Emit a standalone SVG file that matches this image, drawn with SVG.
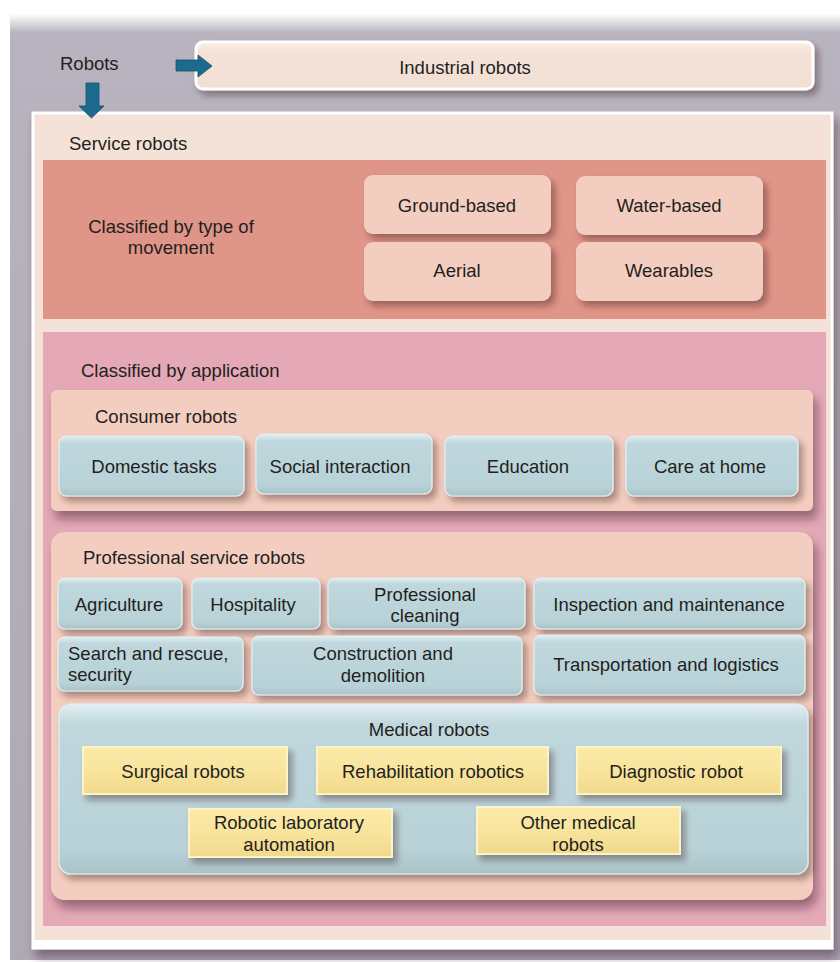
<svg xmlns="http://www.w3.org/2000/svg" width="840" height="962" viewBox="0 0 840 962">
<style>
  text { font-family: "Liberation Sans", Arial, sans-serif; font-size: 18.5px; fill: #231f20; }
  .c { text-anchor: middle; }
  .blue { fill: url(#gBlue); stroke: #e4f0f3; stroke-width: 1.2; }
  .yel { fill: url(#gYel); stroke: #fdf3c8; stroke-width: 2; }
  .peach { fill: #f3cdbf; }
</style>
<defs>
  <filter id="sh" x="-10%" y="-20%" width="130%" height="160%">
    <feDropShadow dx="4" dy="5" stdDeviation="3" flood-color="#3a1a1a" flood-opacity="0.4"/>
  </filter>
  <filter id="shL" x="-5%" y="-5%" width="115%" height="125%">
    <feDropShadow dx="4" dy="8" stdDeviation="5" flood-color="#3a1a2a" flood-opacity="0.45"/>
  </filter>
  <linearGradient id="gBg" x1="0" y1="0" x2="0" y2="1">
    <stop offset="0" stop-color="#ffffff"/>
    <stop offset="0.02" stop-color="#b8b3be"/>
    <stop offset="1" stop-color="#aea9b5"/>
  </linearGradient>
  <linearGradient id="gBlue" x1="0" y1="0" x2="0" y2="1">
    <stop offset="0" stop-color="#e2eff2"/>
    <stop offset="0.12" stop-color="#bfd7dd"/>
    <stop offset="0.85" stop-color="#b8d2d8"/>
    <stop offset="1" stop-color="#a9c3c9"/>
  </linearGradient>
  <linearGradient id="gYel" x1="0" y1="0" x2="0" y2="1">
    <stop offset="0" stop-color="#fbeaa9"/>
    <stop offset="0.5" stop-color="#f8e49c"/>
    <stop offset="1" stop-color="#f1d98c"/>
  </linearGradient>
  <linearGradient id="gInd" x1="0" y1="0" x2="0" y2="1">
    <stop offset="0" stop-color="#fbefe8"/>
    <stop offset="0.2" stop-color="#f4e2d8"/>
    <stop offset="1" stop-color="#f2dfd4"/>
  </linearGradient>
</defs>

<!-- background -->
<rect x="0" y="0" width="840" height="962" fill="#ffffff"/>
<rect x="10" y="14" width="830" height="946" fill="url(#gBg)"/>

<g id="robots">
  <text x="60" y="70">Robots</text>
</g>

<g id="industrial-robots">
  <rect x="196" y="42" width="617" height="47" rx="7" fill="url(#gInd)" stroke="#ffffff" stroke-width="3" filter="url(#sh)"/>
  <text class="c" x="465" y="74">Industrial robots</text>
</g>

<g id="service-robots">
  <rect x="33" y="113" width="799" height="835" fill="#f4e2d8" stroke="#ffffff" stroke-width="3" filter="url(#shL)"/>
  <rect x="34" y="940" width="797" height="7" fill="#ffffff"/>
  <text x="69" y="150">Service robots</text>
</g>

<g id="movement">
  <rect x="43" y="160" width="783" height="159" fill="#df9587"/>
  <text class="c" x="171" y="233">Classified by type of</text>
  <text class="c" x="171" y="254">movement</text>
</g>
<g id="ground-based">
  <rect class="peach" x="364" y="175" width="187" height="59" rx="9" filter="url(#sh)"/>
  <text class="c" x="457" y="212">Ground-based</text>
</g>
<g id="water-based">
  <rect class="peach" x="576" y="176" width="187" height="59" rx="9" filter="url(#sh)"/>
  <text class="c" x="669" y="212">Water-based</text>
</g>
<g id="aerial">
  <rect class="peach" x="364" y="242" width="187" height="59" rx="9" filter="url(#sh)"/>
  <text class="c" x="457" y="277">Aerial</text>
</g>
<g id="wearables">
  <rect class="peach" x="576" y="242" width="187" height="59" rx="9" filter="url(#sh)"/>
  <text class="c" x="669" y="277">Wearables</text>
</g>

<g id="application">
  <rect x="43" y="332" width="783" height="594" fill="#e4a8b6"/>
  <text x="81" y="377">Classified by application</text>
</g>

<g id="consumer-robots">
  <rect class="peach" x="51" y="390" width="762" height="121" rx="6" filter="url(#shL)"/>
  <text x="95" y="423">Consumer robots</text>
</g>
<g id="domestic-tasks">
  <rect class="blue" x="59" y="436" width="185" height="60" rx="8" filter="url(#sh)"/>
  <text class="c" x="154" y="473">Domestic tasks</text>
</g>
<g id="social-interaction">
  <rect class="blue" x="256" y="434" width="176" height="60" rx="8" filter="url(#sh)"/>
  <text class="c" x="340" y="473">Social interaction</text>
</g>
<g id="education">
  <rect class="blue" x="445" y="436" width="168" height="60" rx="8" filter="url(#sh)"/>
  <text class="c" x="528" y="473">Education</text>
</g>
<g id="care-at-home">
  <rect class="blue" x="626" y="436" width="172" height="60" rx="8" filter="url(#sh)"/>
  <text class="c" x="710" y="473">Care at home</text>
</g>

<g id="professional-service-robots">
  <rect class="peach" x="51" y="532" width="762" height="368" rx="14" filter="url(#shL)"/>
  <text x="83" y="564">Professional service robots</text>
</g>
<g id="agriculture">
  <rect class="blue" x="58" y="578" width="124" height="51" rx="7" filter="url(#sh)"/>
  <text class="c" x="119" y="611">Agriculture</text>
</g>
<g id="hospitality">
  <rect class="blue" x="192" y="578" width="128" height="51" rx="7" filter="url(#sh)"/>
  <text class="c" x="253" y="611">Hospitality</text>
</g>
<g id="professional-cleaning">
  <rect class="blue" x="328" y="578" width="197" height="51" rx="7" filter="url(#sh)"/>
  <text class="c" x="425" y="601">Professional</text>
  <text class="c" x="425" y="622">cleaning</text>
</g>
<g id="inspection-and-maintenance">
  <rect class="blue" x="534" y="578" width="271" height="51" rx="7" filter="url(#sh)"/>
  <text class="c" x="669" y="611">Inspection and maintenance</text>
</g>
<g id="search-and-rescue">
  <rect class="blue" x="58" y="637" width="185" height="54" rx="7" filter="url(#sh)"/>
  <text x="68" y="660">Search and rescue,</text>
  <text x="68" y="681">security</text>
</g>
<g id="construction-and-demolition">
  <rect class="blue" x="252" y="636" width="270" height="59" rx="7" filter="url(#sh)"/>
  <text class="c" x="383" y="660">Construction and</text>
  <text class="c" x="383" y="682">demolition</text>
</g>
<g id="transportation-and-logistics">
  <rect class="blue" x="534" y="635" width="271" height="60" rx="7" filter="url(#sh)"/>
  <text class="c" x="666" y="671">Transportation and logistics</text>
</g>

<g id="medical-robots">
  <rect class="blue" x="59" y="704" width="749" height="170" rx="12" filter="url(#sh)"/>
  <text class="c" x="429" y="736">Medical robots</text>
</g>
<g id="surgical-robots">
  <rect class="yel" x="83" y="747" width="204" height="47" filter="url(#sh)"/>
  <text class="c" x="183" y="778">Surgical robots</text>
</g>
<g id="rehabilitation-robotics">
  <rect class="yel" x="317" y="747" width="231" height="47" filter="url(#sh)"/>
  <text class="c" x="433" y="778">Rehabilitation robotics</text>
</g>
<g id="diagnostic-robot">
  <rect class="yel" x="577" y="747" width="204" height="47" filter="url(#sh)"/>
  <text class="c" x="676" y="778">Diagnostic robot</text>
</g>
<g id="robotic-laboratory-automation">
  <rect class="yel" x="189" y="809" width="203" height="48" filter="url(#sh)"/>
  <text class="c" x="289" y="829">Robotic laboratory</text>
  <text class="c" x="289" y="851">automation</text>
</g>
<g id="other-medical-robots">
  <rect class="yel" x="477" y="807" width="203" height="47" filter="url(#sh)"/>
  <text class="c" x="578" y="829">Other medical</text>
  <text class="c" x="578" y="851">robots</text>
</g>

<g id="connectors" fill="#1c6b8c" stroke="#134f69" stroke-width="0.8">
  <polygon points="176,60 198,60 198,55 212,66 198,77 198,71 176,71"/>
  <polygon points="86,83 99,83 99,106 104,106 91.5,118 79,106 86,106"/>
</g>
</svg>
